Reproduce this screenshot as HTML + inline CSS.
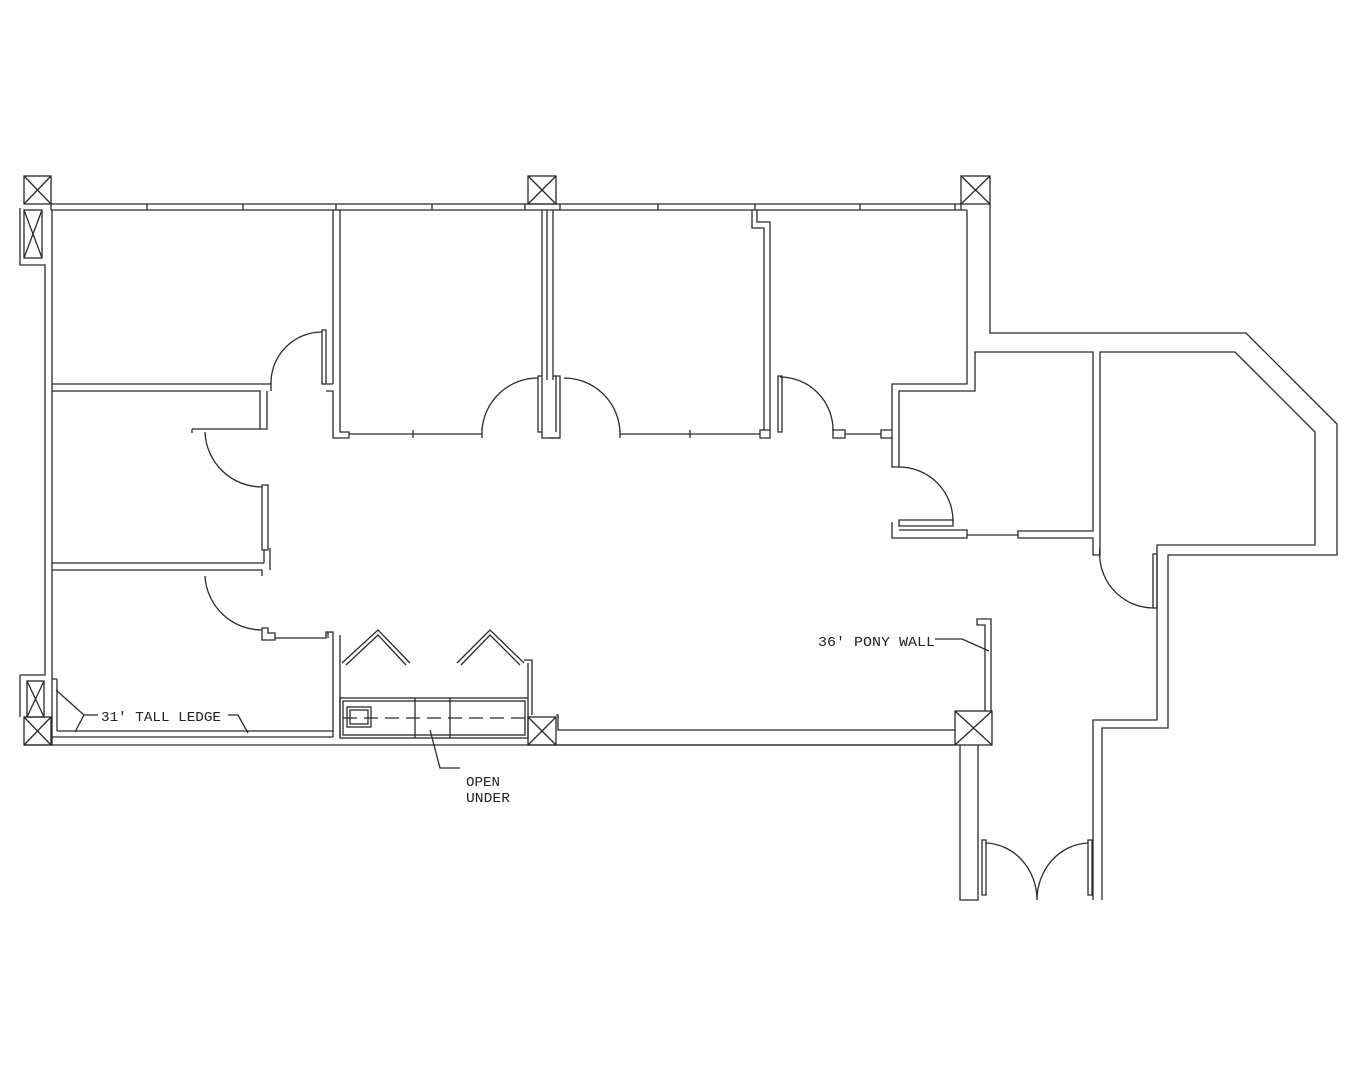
<!DOCTYPE html>
<html><head><meta charset="utf-8"><style>
html,body{margin:0;padding:0;background:#fff;}
svg{display:block;}
text{font-family:"Liberation Mono","DejaVu Sans Mono",monospace;fill:#222;}
</style></head><body>
<svg width="1350" height="1080" viewBox="0 0 1350 1080" xmlns="http://www.w3.org/2000/svg">
<g fill="none" stroke="#2a2a2a" stroke-width="1.3">
<!-- columns top -->
<rect x="24" y="176" width="27" height="28"/><path d="M24 176L51 204M51 176L24 204"/>
<rect x="528" y="176" width="28" height="28"/><path d="M528 176L556 204M556 176L528 204"/>
<rect x="961" y="176" width="29" height="28"/><path d="M961 176L990 204M990 176L961 204"/>
<rect x="24" y="210" width="18" height="48"/><path d="M24 210L42 258M42 210L24 258"/>
<path d="M20 208V265H45V675H20"/>
<!-- top window wall -->
<path d="M51 204H961M51 210H967M51 204V210M961 204V210"/>
<path d="M147 204v6M243 204v6M336 204v6M432 204v6M525 204v6M560 204v6M658 204v6M755 204v6M860 204v6M955 204v6"/>
<!-- left inner wall -->
<path d="M52 210V745"/>
<!-- bottom left columns -->
<rect x="27" y="681" width="17" height="36"/><path d="M27 681L44 717M44 681L27 717"/>
<rect x="24" y="717" width="27" height="28"/><path d="M24 717L51 745M51 717L24 745"/>
<path d="M20 675V717"/>
<!-- bottom walls -->
<path d="M24 745H955"/>
<path d="M52 737H333M57 731H333M57 679V731M52 679H57"/>
<!-- room1 bottom & door -->
<path d="M52 384H271V391M52 391H260V429H192"/>
<path d="M267 391V429H260"/>
<path d="M271 384A51 51 0 0 1 322 332"/>
<path d="M322 330H326V384H322ZM326 384H333"/>
<path d="M333 210V384M340 210V432H349V438H333V391H326"/>
<!-- middle-left room -->
<path d="M192 429V433"/>
<path d="M205 432A57 57 0 0 0 262 487"/>
<path d="M262 485h6v65h-6zM264 550V563M270 548V570"/>
<path d="M52 563H264M52 570H262V576"/>
<path d="M205 576A57 57 0 0 0 262 630"/>
<path d="M262 628H268V633H275V640H262ZM275 638H326V632H333V737"/>
<path d="M340 635V737M328 632V638"/>
<!-- room2 bottom -->
<path d="M349 434H482M413 430v8M482 428v10"/>
<path d="M482 430A56 56 0 0 1 538 378"/>
<path d="M538 376h4v56h-4zM542 210V438H560V376h-4v56M547 210V380M553 210V380"/>
<path d="M553 376h4M549 438H560"/>
<path d="M564 378A56 56 0 0 1 620 432"/>
<path d="M620 430v8M620 434H760M690 430v8M760 430H770V438H760Z"/>
<!-- room3/4 partition -->
<path d="M752 210V228H764V430M757 210V222H770V430"/>
<path d="M778 376h4v56h-4z"/>
<path d="M780 377A53 53 0 0 1 833 431"/>
<path d="M833 430h12v8h-12zM845 434H881M881 430h11v8h-11z"/>
<!-- room4 right wall & room5 -->
<path d="M967 210V384H892V430M990 204V333H1246L1337 424V555H1168V728H1102V900"/>
<path d="M892 437V467H899V391H975V352H1093V531H1018V538H1093V555H1100V352H1235L1315 432V545H1157V720H1093V900"/>
<path d="M899 467A54 54 0 0 1 953 522"/>
<path d="M899 520H953V526H899ZM892 522V538H967V530H899"/>
<path d="M967 535H1018"/>
<path d="M1100 548A54 54 0 0 0 1153 608"/>
<path d="M1153 554h4v54h-4z"/>
<!-- kitchenette -->
<rect x="340" y="698" width="188" height="40"/>
<rect x="343" y="701" width="182" height="34"/>
<path d="M415 698V738M450 698V738"/>
<path d="M343 718H525" stroke-dasharray="14 7"/>
<rect x="347" y="707" width="24" height="20"/><rect x="350" y="710" width="18" height="14"/>
<path d="M342 663L378 630L410 663M346 665L378 635L406 665"/>
<path d="M457 663L490 630L524 663M461 665L490 635L520 665"/>
<path d="M524 660H532V698M528 663V698M532 660V715"/>
<!-- bottom right -->
<rect x="528" y="717" width="28" height="28"/><path d="M528 717L556 745M556 717L528 745"/>
<path d="M556 715H558V730H955M556 745H955"/>
<rect x="955" y="711" width="37" height="34"/><path d="M955 711L992 745M992 711L955 745"/>
<path d="M985 711V625H977V619H991V711"/>
<path d="M960 745V900H978V745"/>
<path d="M982 840h4v55h-4zM1088 840h4v55h-4z"/>
<path d="M986 843A53 57 0 0 1 1037 900M1088 843A53 57 0 0 0 1037 900"/>
<!-- leaders -->
<path d="M56 690L84 715L75 732M84 715H98M228 715H238L248 733"/>
<path d="M935 639H962L989 651"/>
<path d="M430 730L440 768H460"/>
</g>
<text x="101" y="721" font-size="13.5" textLength="120" lengthAdjust="spacingAndGlyphs">31' TALL LEDGE</text>
<text x="818" y="646" font-size="13.5" textLength="117" lengthAdjust="spacingAndGlyphs">36' PONY WALL</text>
<text x="466" y="786" font-size="13.5" textLength="34" lengthAdjust="spacingAndGlyphs">OPEN</text>
<text x="466" y="802" font-size="13.5" textLength="44" lengthAdjust="spacingAndGlyphs">UNDER</text>
</svg>
</body></html>
